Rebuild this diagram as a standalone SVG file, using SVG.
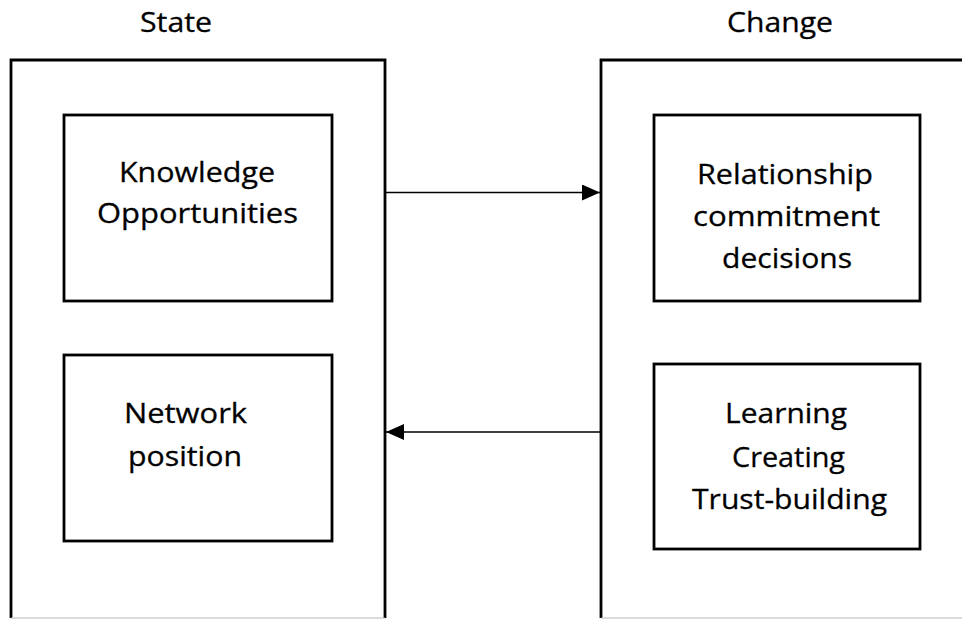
<svg xmlns="http://www.w3.org/2000/svg" width="962" height="619" viewBox="0 0 962 619">
  <style>
    .frame { fill: none; stroke: #000; stroke-width: 2.8; }
    .edge { fill: none; stroke: #b8b8b8; stroke-width: 1; }
    .box { fill: #fff; stroke: #000; stroke-width: 2.8; }
    .lbl { font-family: "Open Sans", "Noto Sans", "Liberation Sans", sans-serif; font-size: 28px; fill: #000; stroke: #000; stroke-width: 0.3; text-anchor: middle; }
    .conn { fill: none; stroke: #000; stroke-width: 1.6; }
  </style>
  <defs>
    <marker id="arrow" viewBox="0 0 18 16" refX="18" refY="8" markerWidth="18" markerHeight="16" markerUnits="userSpaceOnUse" orient="auto">
      <path d="M0,0 L18,8 L0,16 Z" fill="#000"/>
    </marker>
  </defs>
  <rect width="962" height="619" fill="#fff"/>

  <!-- State column -->
  <g id="state">
    <path class="frame" d="M11,618 V60 H385 V618"/>
    <line class="edge" x1="11" y1="618" x2="385" y2="618"/>
    <text class="lbl" x="176" y="32" textLength="72" lengthAdjust="spacingAndGlyphs">State</text>
  </g>

  <!-- Change column -->
  <g id="change">
    <path class="frame" d="M601,618 V60 H964"/>
    <line class="edge" x1="601" y1="618" x2="962" y2="618"/>
    <text class="lbl" x="780" y="32" textLength="106" lengthAdjust="spacingAndGlyphs">Change</text>
  </g>

  <g id="knowledge">
    <rect class="box" x="64" y="115" width="268" height="186"/>
    <text class="lbl" x="197" y="182" textLength="156" lengthAdjust="spacingAndGlyphs">Knowledge</text>
    <text class="lbl" x="197.5" y="223" textLength="201" lengthAdjust="spacingAndGlyphs">Opportunities</text>
  </g>

  <g id="network">
    <rect class="box" x="64" y="355" width="268" height="186"/>
    <text class="lbl" x="185.5" y="423" textLength="123" lengthAdjust="spacingAndGlyphs">Network</text>
    <text class="lbl" x="185" y="466" textLength="114" lengthAdjust="spacingAndGlyphs">position</text>
  </g>

  <g id="relationship">
    <rect class="box" x="654" y="115" width="266" height="186"/>
    <text class="lbl" x="785" y="184" textLength="176" lengthAdjust="spacingAndGlyphs">Relationship</text>
    <text class="lbl" x="786.5" y="226" textLength="187" lengthAdjust="spacingAndGlyphs">commitment</text>
    <text class="lbl" x="787" y="268" textLength="130" lengthAdjust="spacingAndGlyphs">decisions</text>
  </g>

  <g id="learning">
    <rect class="box" x="654" y="364" width="266" height="185"/>
    <text class="lbl" x="786" y="423" textLength="122" lengthAdjust="spacingAndGlyphs">Learning</text>
    <text class="lbl" x="788.5" y="467" textLength="113" lengthAdjust="spacingAndGlyphs">Creating</text>
    <text class="lbl" x="789.5" y="509" textLength="195" lengthAdjust="spacingAndGlyphs">Trust-building</text>
  </g>

  <!-- connectors -->
  <g id="connectors">
    <line class="conn" x1="386" y1="192.5" x2="600" y2="192.5" marker-end="url(#arrow)"/>
    <line class="conn" x1="600" y1="432" x2="386" y2="432" marker-end="url(#arrow)"/>
  </g>
</svg>
